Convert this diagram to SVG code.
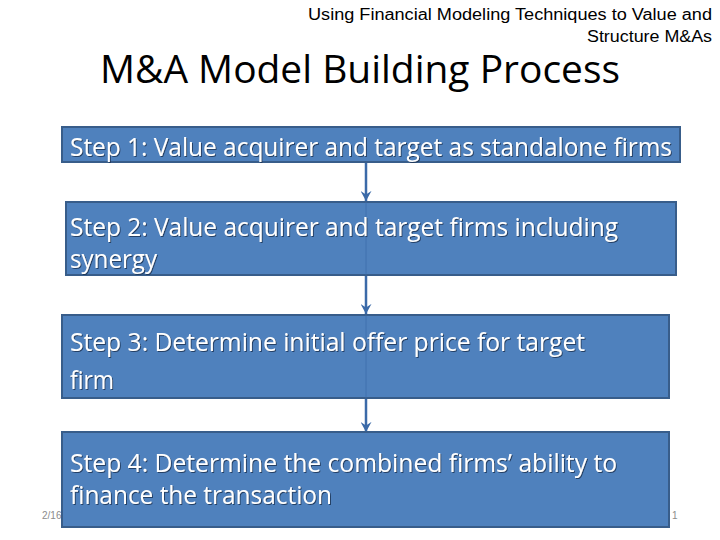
<svg xmlns="http://www.w3.org/2000/svg" width="720" height="540" viewBox="0 0 720 540">
  <defs>
    <marker id="arr" viewBox="0 0 12 12" refX="11" refY="6" markerWidth="4.4" markerHeight="4.4" orient="auto" markerUnits="strokeWidth">
      <path d="M0,0 L11,6 L0,12 L4,6 Z" fill="#3b6aa8"/>
    </marker>
    <filter id="sh" x="-5%" y="-20%" width="110%" height="140%">
      <feDropShadow dx="1" dy="1" stdDeviation="0.6" flood-color="#1f3350" flood-opacity="0.8"/>
    </filter>
  </defs>
  <style>
    .hdr { font-family: "Liberation Sans", Arial, sans-serif; font-size: 16px; fill: #000; text-anchor: end; }
    .title { font-family: "Open Sans", "Noto Sans", sans-serif; font-size: 39px; fill: #000; }
    .box { fill: #4f81bd; stroke: #385d8a; stroke-width: 2; }
    .st { font-family: "Open Sans", "Noto Sans", sans-serif; font-size: 25px; fill: #ffffff; filter: url(#sh); }
    .conn { stroke: #3b6aa8; stroke-width: 2.5; fill: none; }
    .thin { stroke: #3b6aa8; stroke-width: 1; fill: none; opacity: 0.7; }
    .foot { font-family: "Liberation Sans", Arial, sans-serif; font-size: 10px; fill: #8c8c8c; }
  </style>
  <rect width="720" height="540" fill="#ffffff"/>

  <text class="hdr" x="712" y="20" textLength="404" lengthAdjust="spacingAndGlyphs">Using Financial Modeling Techniques to Value and</text>
  <text class="hdr" x="712" y="42" textLength="125" lengthAdjust="spacingAndGlyphs">Structure M&amp;As</text>
  <text class="title" x="100" y="83" textLength="520" lengthAdjust="spacingAndGlyphs">M&amp;A Model Building Process</text>

  <text class="foot" x="42" y="519">2/16/2014</text>
  <text class="foot" x="672" y="519">1</text>

  <g id="connectors">
    <line class="conn" x1="366" y1="162" x2="366" y2="201" marker-end="url(#arr)"/>
    <line class="conn" x1="366" y1="276" x2="366" y2="314" marker-end="url(#arr)"/>
    <line class="conn" x1="366" y1="398" x2="366" y2="432" marker-end="url(#arr)"/>
  </g>

  <g id="step1">
    <rect class="box" x="62" y="127" width="618" height="35"/>
    <text class="st" x="70" y="156" textLength="602" lengthAdjust="spacingAndGlyphs">Step 1: Value acquirer and target as standalone firms</text>
  </g>
  <g id="step2">
    <rect class="box" x="66" y="202" width="610" height="73"/>
    <line class="thin" x1="366" y1="202" x2="366" y2="275"/>
    <text class="st" x="70" y="236" textLength="548" lengthAdjust="spacingAndGlyphs">Step 2: Value acquirer and target firms including</text>
    <text class="st" x="70" y="268" textLength="87" lengthAdjust="spacingAndGlyphs">synergy</text>
  </g>
  <g id="step3">
    <rect class="box" x="62" y="315" width="607" height="83"/>
    <line class="thin" x1="366" y1="315" x2="366" y2="398"/>
    <text class="st" x="70" y="351" textLength="515" lengthAdjust="spacingAndGlyphs">Step 3: Determine initial offer price for target</text>
    <text class="st" x="70" y="389" textLength="44" lengthAdjust="spacingAndGlyphs">firm</text>
  </g>
  <g id="step4">
    <rect class="box" x="62" y="432" width="607" height="95"/>
    <text class="st" x="70" y="472" textLength="547" lengthAdjust="spacingAndGlyphs">Step 4: Determine the combined firms’ ability to</text>
    <text class="st" x="70" y="504" textLength="262" lengthAdjust="spacingAndGlyphs">finance the transaction</text>
  </g>
</svg>
